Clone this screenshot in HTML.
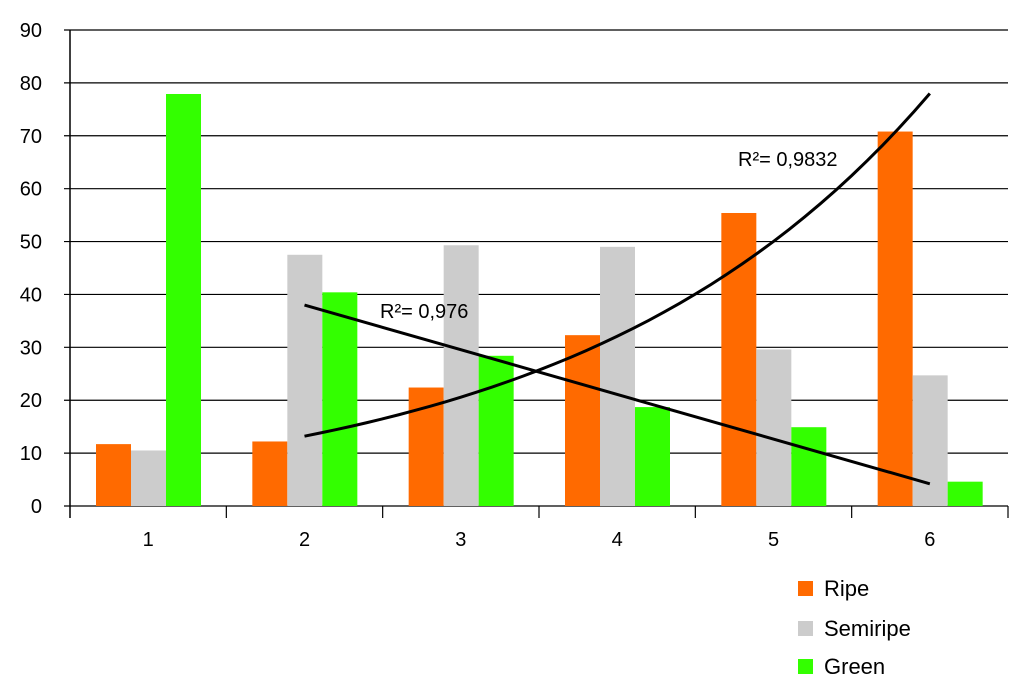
<!DOCTYPE html>
<html><head><meta charset="utf-8"><style>
body{margin:0;background:#fff;width:1024px;height:690px;overflow:hidden}
svg{font-family:"Liberation Sans",sans-serif}
</style></head><body>
<svg id="chart" width="1024" height="690" viewBox="0 0 1024 690"></svg>
<script>
const categories=["1","2","3","4","5","6"];
const ripe=[11.7,12.2,22.4,32.3,55.4,70.8];
const semiripe=[10.5,47.5,49.3,49.0,29.6,24.7];
const green=[77.9,40.4,28.4,18.7,14.9,4.6];
const yTicks=[0,10,20,30,40,50,60,70,80,90];
const linTrend=[38.0,4.2]; // values at category 2 and 6
const expTrend=[13.2,78.0]; // values at category 2 and 6
const r2Labels=["R²= 0,976","R²= 0,9832"];
const NS="http://www.w3.org/2000/svg";
const svg=document.getElementById('chart');
const X0=70,X1=1008,Y0=506,Y90=30;
const cw=(X1-X0)/categories.length;
const y=v=>Y0-(v/90)*(Y0-Y90);
const xc=i=>X0+cw*(i+0.5);
function mk(t,a,p){const e=document.createElementNS(NS,t);for(const k in a)e.setAttribute(k,a[k]);(p||svg).appendChild(e);return e;}
yTicks.forEach(t=>{
  const l=mk('line',{x1:X0-6,x2:X1,y1:y(t),y2:y(t),stroke:'#000','stroke-width':1.2});
  
  
  const tx=mk('text',{x:42,y:y(t)+7,'font-size':20,'text-anchor':'end'});
  tx.textContent=t;
  
  
});
const ax=mk('line',{x1:X0,x2:X0,y1:Y90,y2:Y0+12,stroke:'#000','stroke-width':1.5});

const series=[[ripe,'#ff6a00','ripe'],[semiripe,'#cccccc','semiripe'],[green,'#33ff00','green']];
const bw=35,off=26;
categories.forEach((c,i)=>{
  const s=X0+cw*i;
  series.forEach(([arr,col,nm],j)=>{
    const r=mk('rect',{x:s+off+j*bw,y:y(arr[i]),width:bw,height:Y0-y(arr[i]),fill:col});
    
    
  });
  const tk=mk('line',{x1:s+cw,x2:s+cw,y1:Y0,y2:Y0+12,stroke:'#000','stroke-width':1.2});
  
  const tl=mk('text',{x:xc(i),y:546,'font-size':20,'text-anchor':'middle'});
  tl.textContent=c;
  
});
// linear trend
const lt=mk('line',{x1:xc(1),y1:y(linTrend[0]),x2:xc(5),y2:y(linTrend[1]),stroke:'#000','stroke-width':3});

// exponential trend
const b=Math.log(expTrend[1]/expTrend[0])/4;let d='';
for(let k=0;k<=40;k++){const t=2+k*0.1;const v=expTrend[0]*Math.exp(b*(t-2));d+=(k?'L':'M')+xc(t-1)+','+y(v);}
const et=mk('path',{d:d,fill:'none',stroke:'#000','stroke-width':3});

const l1=mk('text',{x:380,y:318,'font-size':20});l1.textContent=r2Labels[0];

const l2=mk('text',{x:738,y:166,'font-size':20});l2.textContent=r2Labels[1];

[['Ripe','#ff6a00',581],['Semiripe','#cccccc',621],['Green','#33ff00',659]].forEach(([n,c,yy])=>{
  const g=mk('g',{});
  
  
  mk('rect',{x:798,y:yy,width:15,height:15,fill:c},g);
  const t=mk('text',{x:824,y:yy+15,'font-size':22},g);t.textContent=n;
});
</script>
</body></html>
